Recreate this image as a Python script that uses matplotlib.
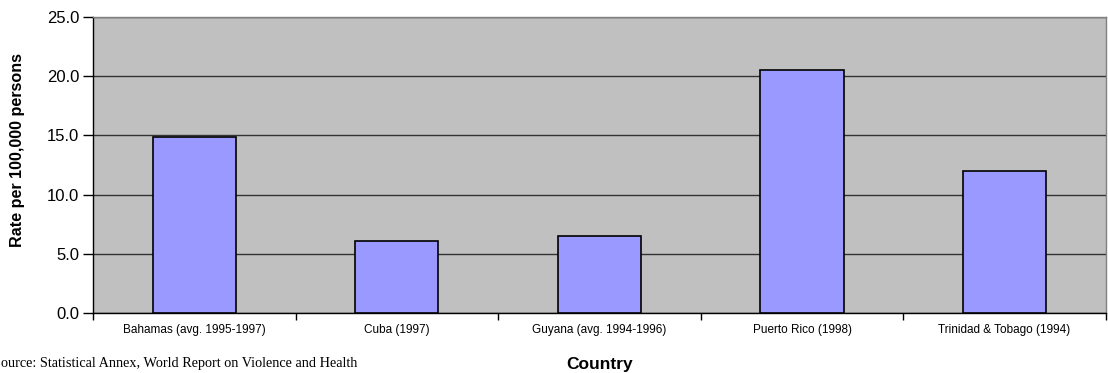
import numpy as np
import matplotlib
matplotlib.use("Agg")
import matplotlib.pyplot as plt
from matplotlib.ticker import FixedLocator, NullFormatter

countries = ["Bahamas (avg. 1995-1997)", "Cuba (1997)", "Guyana (avg. 1994-1996)",
             "Puerto Rico (1998)", "Trinidad & Tobago (1994)"]
rates = [14.9, 6.1, 6.5, 20.5, 12.0]
y_ticks = [0, 5, 10, 15, 20, 25]

plt.rcParams["font.family"] = ["Liberation Sans", "DejaVu Sans"]

fig = plt.figure(figsize=(11.08, 3.73), dpi=100)
ax = fig.add_axes([0.0839, 0.1609, 0.9142, 0.7935])
ax.set_facecolor("#C0C0C0")

x = np.arange(len(countries))
ax.bar(x, rates, width=0.41, color="#9999FF", edgecolor="black", linewidth=1.2, zorder=3)

ax.set_xlim(-0.5, len(countries) - 0.5)
ax.set_ylim(0, 25)
ax.set_yticks(y_ticks)
ax.set_yticklabels([f"{v:.1f}" for v in y_ticks], fontsize=12)
ax.yaxis.grid(True, color="#333333", linewidth=1.0, zorder=1)
ax.set_axisbelow(True)

# category labels centred, ticks on the category boundaries
ax.set_xticks(x)
ax.set_xticklabels(countries, fontsize=8.5)
ax.tick_params(axis="x", which="major", length=0, pad=8)
ax.xaxis.set_minor_locator(FixedLocator(np.arange(-0.5, len(countries), 1.0)))
ax.xaxis.set_minor_formatter(NullFormatter())
ax.tick_params(axis="x", which="minor", length=5, width=1, color="black", direction="out")
ax.tick_params(axis="y", length=7, width=1, color="black", pad=3)

for side in ["top", "right"]:
    ax.spines[side].set_color("#808080")
    ax.spines[side].set_linewidth(1.0)
for side in ["left", "bottom"]:
    ax.spines[side].set_color("black")
    ax.spines[side].set_linewidth(1.0)

ax.set_ylabel("Rate per 100,000 persons", fontsize=11.6, fontweight="bold")
ax.yaxis.set_label_coords(-0.067, 0.55)
fig.text(0.541, 0.012, "Country", fontsize=12.5, fontweight="bold", ha="center", va="baseline")
fig.text(-0.0065, 0.016, "Source: Statistical Annex, World Report on Violence and Health",
         fontsize=10.3, family=["Liberation Serif", "DejaVu Serif"], ha="left", va="baseline")

fig.savefig("out.png", dpi=100)
